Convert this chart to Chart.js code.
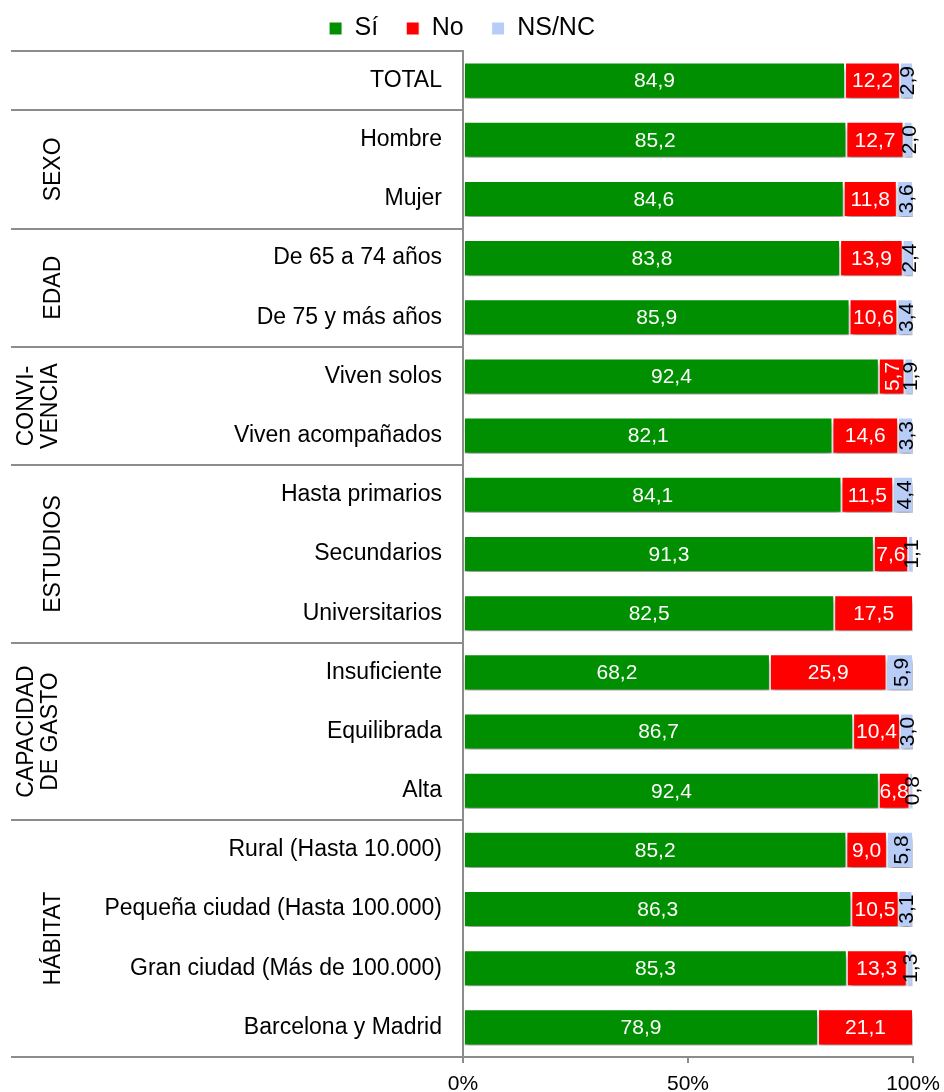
<!DOCTYPE html>
<html><head><meta charset="utf-8">
<script src="https://cdn.jsdelivr.net/npm/chart.js@4.4.1/dist/chart.umd.min.js"></script>
<style>html,body{margin:0;padding:0;background:#fff}#wrap{width:944px;height:1092px;position:relative}</style>
</head><body><div id="wrap"><canvas id="c" width="944" height="1092"></canvas></div>
<script>
const categories = ['TOTAL','Hombre','Mujer','De 65 a 74 años','De 75 y más años','Viven solos','Viven acompañados','Hasta primarios','Secundarios','Universitarios','Insuficiente','Equilibrada','Alta','Rural (Hasta 10.000)','Pequeña ciudad (Hasta 100.000)','Gran ciudad (Más de 100.000)','Barcelona y Madrid'];
const si   = [84.9,85.2,84.6,83.8,85.9,92.4,82.1,84.1,91.3,82.5,68.2,86.7,92.4,85.2,86.3,85.3,78.9];
const no   = [12.2,12.7,11.8,13.9,10.6,5.7,14.6,11.5,7.6,17.5,25.9,10.4,6.8,9.0,10.5,13.3,21.1];
const nsnc = [2.9,2.0,3.6,2.4,3.4,1.9,3.3,4.4,1.1,0,5.9,3.0,0.8,5.8,3.1,1.3,0];
const seriesNames = ['Sí','No','NS/NC'];
const groupNames = [['SEXO'],['EDAD'],['CONVI-','VENCIA'],['ESTUDIOS'],['CAPACIDAD','DE GASTO'],['HÁBITAT']];
const groupStart = [1,3,5,7,10,13];
const groupEnd   = [2,4,6,9,12,16];
const xTicks = [0,50,100];

const FONT = "'Liberation Sans', Arial, sans-serif";
const GRAY = '#8c8c8c';
const colors = ['#008f00','#ff0000','#b8ccf8'];
const labelColors = ['#ffffff','#ffffff','#000000'];

function fmt(v){ return v.toFixed(1).replace('.', ','); }

const decoPlugin = {
  id: 'deco',
  beforeDatasetsDraw(chart){
    const ctx = chart.ctx;
    ctx.save();
    ctx.shadowColor = 'rgba(0,0,0,0.4)';
    ctx.shadowBlur = 5;
    ctx.shadowOffsetX = 1;
    ctx.shadowOffsetY = 5;
  },
  afterDatasetsDraw(chart){
    const ctx = chart.ctx;
    ctx.restore();
    ctx.save();
    ctx.font = '21px ' + FONT;
    chart.data.datasets.forEach((ds, di) => {
      const meta = chart.getDatasetMeta(di);
      meta.data.forEach((el, i) => {
        const v = ds.data[i];
        if (!v) return;
        const cx = (el.x + el.base) / 2;
        const cy = el.y;
        ctx.fillStyle = labelColors[di];
        ctx.textAlign = 'center';
        ctx.textBaseline = 'middle';
        const rotate = di === 2 || (di === 1 && v < 6);
        if (rotate) {
          ctx.save();
          ctx.translate(cx + 1, cy);
          ctx.rotate(-Math.PI / 2);
          ctx.fillText(fmt(v), 0, 1);
          ctx.restore();
        } else {
          ctx.fillText(fmt(v), cx, cy + 1);
        }
      });
    });
    ctx.restore();
  },
  afterDraw(chart){
    const ctx = chart.ctx;
    const ys = chart.scales.y;
    const area = chart.chartArea;
    const n = categories.length;
    const band = (ys.getPixelForValue(n - 1) - ys.getPixelForValue(0)) / (n - 1);
    const boundaries = [0];
    groupStart.forEach(s => boundaries.push(s));
    boundaries.push(n);
    ctx.save();
    ctx.strokeStyle = GRAY;
    ctx.lineWidth = 2;
    boundaries.forEach(b => {
      const y = Math.round(ys.getPixelForValue(0) + (b - 0.5) * band);
      ctx.beginPath();
      ctx.moveTo(11, y);
      ctx.lineTo(area.left, y);
      ctx.stroke();
    });
    ctx.fillStyle = '#000';
    ctx.font = '23px ' + FONT;
    ctx.textAlign = 'center';
    ctx.textBaseline = 'middle';
    groupNames.forEach((lines, gi) => {
      const y0 = ys.getPixelForValue(groupStart[gi]) - band / 2;
      const y1 = ys.getPixelForValue(groupEnd[gi]) + band / 2;
      const cy = (y0 + y1) / 2;
      const xs = lines.length === 1 ? [54] : [27, 51];
      lines.forEach((t, li) => {
        ctx.save();
        ctx.translate(xs[li], cy);
        ctx.rotate(-Math.PI / 2);
        ctx.fillText(t, 0, 0);
        ctx.restore();
      });
    });
    ctx.restore();
  }
};

new Chart(document.getElementById('c'), {
  type: 'bar',
  data: {
    labels: categories,
    datasets: [si, no, nsnc].map((d, i) => ({
      label: seriesNames[i],
      data: d,
      backgroundColor: colors[i],
      borderColor: '#ffffff',
      borderWidth: 1,
      borderSkipped: false,
      barPercentage: 0.61,
      categoryPercentage: 1
    }))
  },
  options: {
    indexAxis: 'y',
    responsive: false,
    animation: false,
    devicePixelRatio: 1,
    layout: { padding: { top: -12, right: 20, bottom: 0, left: 0 } },
    plugins: {
      legend: {
        position: 'top',
        labels: { font: { size: 25, family: FONT }, color: '#000', boxWidth: 13, boxHeight: 13, padding: 28 }
      },
      tooltip: { enabled: false }
    },
    scales: {
      x: {
        stacked: true,
        min: 0, max: 100,
        afterBuildTicks(scale){ scale.ticks = xTicks.map(v => ({ value: v })); },
        afterFit(scale){ scale.height = 35; scale.paddingRight = 31; },
        ticks: { callback: v => v + '%', font: { size: 21, family: FONT }, color: '#000', padding: 9, maxRotation: 0 },
        grid: { drawOnChartArea: false, drawTicks: true, tickLength: 6, color: GRAY, lineWidth: 2 },
        border: { color: GRAY, width: 2 }
      },
      y: {
        stacked: true,
        afterFit(scale){ scale.width = 463; },
        ticks: { font: { size: 23, family: FONT }, color: '#000', padding: 13, autoSkip: false },
        grid: { display: false },
        border: { color: GRAY, width: 2 }
      }
    }
  },
  plugins: [decoPlugin]
});
</script></body></html>
